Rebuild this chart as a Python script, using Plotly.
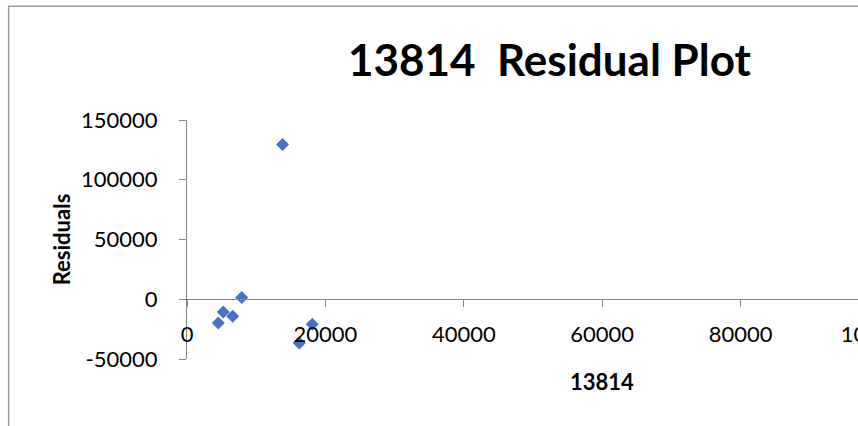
import plotly.graph_objects as go

# ---- data ----
x_vals = [13814, 7900, 5240, 6600, 4520, 18100, 16220]
residuals = [129500, 1400, -10600, -14200, -19850, -20900, -36600]
x_ticks = [0, 20000, 40000, 60000, 80000, 100000]
y_ticks = [-50000, 0, 50000, 100000, 150000]
title_text = "13814  Residual Plot"
x_title = "13814"
y_title = "Residuals"

# ---- layout geometry (pixels) ----
W, H = 940, 426
L, T = 187, 120
PW, PH = 692.5, 238.6
R = W - L - PW
B = H - T - PH

def px_x(p):
    return (p - L) / PW

def px_y(p):
    return (T + PH - p) / PH

FONT = "Lato"
AX = "#868686"

fig = go.Figure()
fig.add_trace(go.Scatter(
    x=x_vals, y=residuals, mode="markers",
    marker=dict(symbol="diamond", size=10, color="#4472C4", line=dict(width=0)),
    showlegend=False, hoverinfo="x+y",
))

fig.update_layout(
    width=W, height=H,
    margin=dict(l=L, r=R, t=T, b=B, pad=0),
    paper_bgcolor="white", plot_bgcolor="white",
    font=dict(family=FONT, color="black", size=22),
    xaxis=dict(
        range=[0, 100000], anchor="free", position=0.25,
        showline=True, linecolor=AX, linewidth=1,
        ticks="outside", ticklen=7, tickcolor=AX, tickwidth=1,
        tickvals=x_ticks, ticktext=[str(v) for v in x_ticks],
        ticklabelstandoff=8, ticklabeloverflow="allow",
        showgrid=False, zeroline=False,
        tickfont=dict(family=FONT, size=22, color="black"),
    ),
    yaxis=dict(
        range=[-50000, 150000],
        showline=True, linecolor=AX, linewidth=1,
        ticks="outside", ticklen=7, tickcolor=AX, tickwidth=1,
        tickvals=y_ticks, ticktext=[str(v) for v in y_ticks],
        ticklabelstandoff=17,
        showgrid=False, zeroline=False,
        tickfont=dict(family=FONT, size=22, color="black"),
    ),
    annotations=[
        dict(text=title_text, xref="paper", yref="paper",
             x=px_x(550), y=px_y(59), xanchor="center", yanchor="middle",
             showarrow=False, font=dict(family=FONT, size=44, weight="bold", color="black")),
        dict(text=x_title, xref="paper", yref="paper",
             x=px_x(602), y=px_y(381), xanchor="center", yanchor="middle",
             showarrow=False, font=dict(family=FONT, size=22, weight="bold", color="black")),
        dict(text=y_title, xref="paper", yref="paper", textangle=-90,
             x=px_x(61), y=px_y(239), xanchor="center", yanchor="middle",
             showarrow=False, font=dict(family=FONT, size=22, weight="bold", color="black")),
    ],
    shapes=[
        dict(type="line", xref="paper", yref="paper",
             x0=px_x(8), y0=px_y(6.5), x1=px_x(W + 10), y1=px_y(6.5),
             line=dict(color="#9a9a9a", width=1.5)),
        dict(type="line", xref="paper", yref="paper",
             x0=px_x(8.5), y0=px_y(6), x1=px_x(8.5), y1=px_y(H + 10),
             line=dict(color="#9a9a9a", width=1.5)),
    ],
)

fig.write_html(
    "out.html",
    config={"displayModeBar": False},
    post_script="document.body.style.margin='0';document.body.style.overflow='hidden';",
)
